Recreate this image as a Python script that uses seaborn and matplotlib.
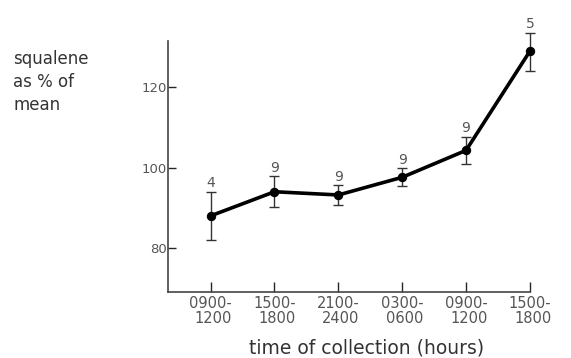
import numpy as np
import pandas as pd
import seaborn as sns
import matplotlib.pyplot as plt

# time windows of collection and squalene values (% of mean)
periods = ['0900-\n1200', '1500-\n1800', '2100-\n2400', '0300-\n0600', '0900-\n1200', '1500-\n1800']
squalene = [88, 94, 93.2, 97.6, 104.3, 129]
err_up = [6, 3.8, 2.4, 2.2, 3.4, 4.6]
err_down = [6, 3.8, 2.4, 2.2, 3.4, 4.9]
n_samples = ['4', '9', '9', '9', '9', '5']

df = pd.DataFrame({'pos': np.arange(len(periods)), 'squalene': squalene})

sns.set_style('ticks')
plt.rcParams['font.family'] = ['DejaVu Sans']

fig = plt.figure(figsize=(5.71, 3.58), dpi=100)
ax = fig.add_axes([0.294, 0.184, 0.634, 0.701])

# error bars first so the line sits on top
eb = ax.errorbar(df['pos'], df['squalene'], yerr=[err_down, err_up], fmt='none',
                 ecolor='#333333', elinewidth=1.0, capsize=3.5, capthick=1.0, zorder=2)
for art in eb.lines[1] + eb.lines[2]:
    art.set_clip_on(False)

sns.lineplot(data=df, x='pos', y='squalene', color='black', linewidth=2.6,
             marker='o', markersize=6, markeredgecolor='black', ax=ax, zorder=3,
             clip_on=False)

# sample sizes above the caps
for i, lab in enumerate(n_samples):
    ax.text(i, squalene[i] + err_up[i] + 0.4, lab, ha='center', va='bottom',
            fontsize=10, color='#555555')

ax.set_xlim(-0.67, 5)
ax.set_ylim(69, 131.5)
ax.set_yticks([80, 100, 120])
ax.set_xticks(range(len(periods)))
ax.set_xticklabels(periods, multialignment='right', fontsize=10.5, color='#555555',
                   linespacing=1.0)
ax.tick_params(axis='y', direction='in', length=6, width=1, labelsize=9.5,
               labelcolor='#555555', pad=1)
ax.tick_params(axis='x', direction='in', length=7, width=1, pad=3)

ax.set_xlabel('time of collection (hours)', fontsize=13.5, color='#333333')
ax.xaxis.set_label_coords(0.55, -0.185)
ax.set_ylabel('')
sns.despine(ax=ax)
for side in ['left', 'bottom']:
    ax.spines[side].set_color('#444444')
    ax.spines[side].set_linewidth(1.2)

fig.text(0.023, 0.86, 'squalene\nas % of\nmean', ha='left', va='top',
         fontsize=12, color='#333333', linespacing=1.35)

fig.savefig('out.png', dpi=100)
